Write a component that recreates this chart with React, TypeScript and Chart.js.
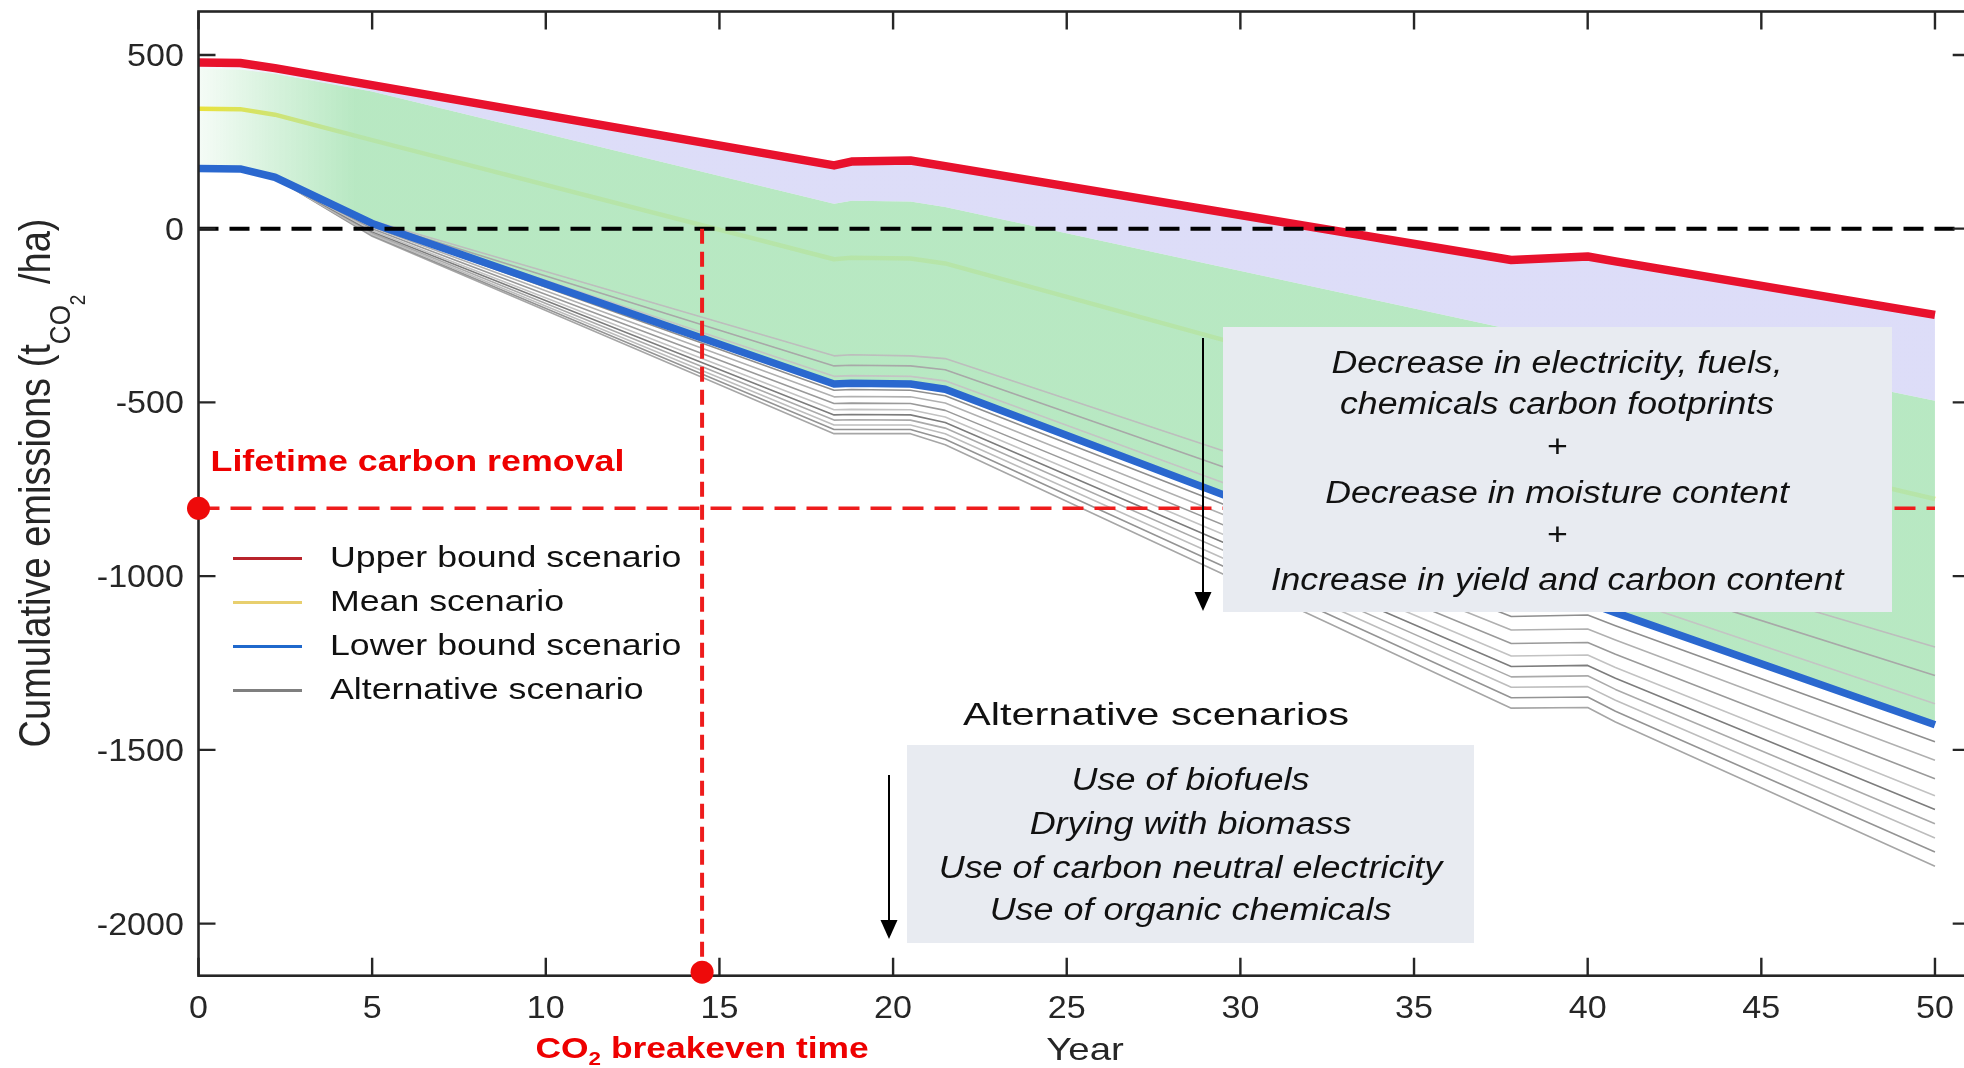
import React, { useEffect, useRef } from 'react';
import { Chart, registerables } from 'chart.js';

Chart.register(...registerables);

// ---------------- data ----------------
const YEARS = [0, 1.2, 2.2, 5, 18.3, 18.8, 20.5, 21.5, 37.8, 40, 40.8, 50];
const UPPER_BOUND = [478, 477, 462, 413, 182, 193, 196, 180, -90, -80, -94, -248];
const MEAN = [345, 344, 328, 255, -88, -84, -86, -100, -548, -543, -562, -778];
const LOWER_BOUND = [173, 172, 148, 15, -447, -445, -447, -462, -1080, -1076, -1105, -1428];
// boundary between the lavender band and the green band of scenarios
const GREEN_TOP = [460, 458, 446, 395, 72, 80, 78, 62, -290, -285, -305, -495];

const ALT_1 = [173, 172, 149, 23, -366, -363, -366, -374, -915, -910, -932, -1204];
const ALT_2 = [173, 172, 149, 20, -395, -393, -395, -406, -975, -970, -995, -1286];
const ALT_3 = [173, 172, 148, 17, -425, -423, -425, -438, -1035, -1031, -1058, -1367];
const ALT_4 = [173, 172, 148, 10, -465, -463, -465, -481, -1116, -1112, -1143, -1477];
const ALT_5 = [173, 172, 148, 5, -484, -483, -484, -502, -1155, -1152, -1184, -1530];
const ALT_6 = [173, 172, 147, 0, -503, -502, -503, -523, -1194, -1191, -1225, -1583];
const ALT_7 = [173, 172, 147, -5, -521, -520, -521, -542, -1230, -1227, -1263, -1632];
const ALT_8 = [173, 172, 147, -9, -536, -535, -536, -558, -1260, -1257, -1294, -1672];
const ALT_9 = [173, 172, 147, -13, -551, -550, -551, -574, -1290, -1287, -1326, -1713];
const ALT_10 = [174, 173, 146, -17, -565, -565, -565, -590, -1320, -1318, -1357, -1754];
const ALT_11 = [175, 174, 146, -20, -578, -578, -578, -606, -1350, -1348, -1389, -1794];
const ALT_12 = [176, 175, 146, -22, -590, -590, -590, -622, -1380, -1378, -1420, -1835];
const ALTERNATIVES = [ALT_1, ALT_2, ALT_3, ALT_4, ALT_5, ALT_6, ALT_7, ALT_8, ALT_9, ALT_10, ALT_11, ALT_12];
const ALT_COLORS = ['#bdbdbd', '#a8a8a8', '#c4c4c4', '#8f8f8f', '#b0b0b0', '#9a9a9a', '#c2c2c2', '#7d7d7d', '#aaaaaa', '#bdbdbd', '#949494', '#a6a6a6'];

const BREAKEVEN_YEAR = 14.5;
const LIFETIME_REMOVAL = -805;
const BREAKEVEN_MARK_Y = -2140;

const X_MIN = 0;
const X_MAX = 51;
const Y_MIN = -2150;
const Y_MAX = 625;
const X_TICKS = [0, 5, 10, 15, 20, 25, 30, 35, 40, 45, 50];
const Y_TICKS = [-2000, -1500, -1000, -500, 0, 500];

const LEGEND_LABELS = ['Upper bound scenario', 'Mean scenario', 'Lower bound scenario', 'Alternative scenario'];
const LEGEND_COLORS = ['#b8232b', '#e8cf6e', '#1f68cc', '#7f7f7f'];

const BOX1_LINES = [
  'Decrease in electricity, fuels,',
  'chemicals carbon footprints',
  '+',
  'Decrease in moisture content',
  '+',
  'Increase in yield and carbon content',
];
const BOX2_LINES = [
  'Use of biofuels',
  'Drying with biomass',
  'Use of carbon neutral electricity',
  'Use of organic chemicals',
];

// ---------------- helpers ----------------
const pts = (ys: number[]) => YEARS.map((x, i) => ({ x, y: ys[i] }));

type Piece = { text: string; size: number; dy: number };

function drawPieces(
  ctx: CanvasRenderingContext2D,
  pieces: Piece[],
  x: number,
  y: number,
  o: { weight?: string; style?: string; color?: string; sx?: number; align?: string; rotate?: boolean }
) {
  const weight = o.weight || 'normal';
  const style = o.style || 'normal';
  const fontFor = (s: number) => `${style} ${weight} ${s}px "Liberation Sans", Arial, sans-serif`;
  ctx.save();
  ctx.translate(x, y);
  ctx.scale(o.sx || 1, 1);
  if (o.rotate) ctx.rotate(-Math.PI / 2);
  let total = 0;
  for (const p of pieces) {
    ctx.font = fontFor(p.size);
    total += ctx.measureText(p.text).width;
  }
  let cx = o.align === 'center' ? -total / 2 : o.align === 'right' ? -total : 0;
  ctx.fillStyle = o.color || '#262626';
  ctx.textAlign = 'left';
  ctx.textBaseline = 'alphabetic';
  for (const p of pieces) {
    ctx.font = fontFor(p.size);
    ctx.fillText(p.text, cx, p.dy);
    cx += ctx.measureText(p.text).width;
  }
  ctx.restore();
}

function text(ctx: CanvasRenderingContext2D, t: string, x: number, y: number, size: number, o: any) {
  drawPieces(ctx, [{ text: t, size, dy: 0 }], x, y, o);
}

function arrowDown(ctx: CanvasRenderingContext2D, x: number, y0: number, y1: number) {
  ctx.save();
  ctx.strokeStyle = '#000';
  ctx.fillStyle = '#000';
  ctx.lineWidth = 2;
  ctx.beginPath();
  ctx.moveTo(x, y0);
  ctx.lineTo(x, y1 - 16);
  ctx.stroke();
  ctx.beginPath();
  ctx.moveTo(x - 8.5, y1 - 19);
  ctx.lineTo(x + 8.5, y1 - 19);
  ctx.lineTo(x, y1);
  ctx.closePath();
  ctx.fill();
  ctx.restore();
}

function drawFrame(chart: any) {
  const ctx: CanvasRenderingContext2D = chart.ctx;
  const { left, right, top, bottom } = chart.chartArea;
  const xs = chart.scales.x;
  const ys = chart.scales.y;
  ctx.save();
  ctx.strokeStyle = '#262626';
  ctx.lineWidth = 2.6;
  ctx.strokeRect(left, top, right - left, bottom - top);
  ctx.lineWidth = 2.4;
  ctx.beginPath();
  for (const v of X_TICKS) {
    const px = xs.getPixelForValue(v);
    ctx.moveTo(px, bottom);
    ctx.lineTo(px, bottom - 18);
    ctx.moveTo(px, top);
    ctx.lineTo(px, top + 18);
  }
  for (const v of Y_TICKS) {
    const py = ys.getPixelForValue(v);
    ctx.moveTo(left, py);
    ctx.lineTo(left + 17, py);
    ctx.moveTo(right, py);
    ctx.lineTo(right - 17, py);
  }
  ctx.stroke();
  ctx.restore();
}

function drawDecor(chart: any) {
  const ctx: CanvasRenderingContext2D = chart.ctx;
  const xs = chart.scales.x;
  const ys = chart.scales.y;

  // tick labels
  for (const v of X_TICKS) {
    text(ctx, String(v), xs.getPixelForValue(v), 1018, 31, { sx: 1.1, align: 'center' });
  }
  for (const v of Y_TICKS) {
    text(ctx, String(v), 184, ys.getPixelForValue(v) + 11, 31, { sx: 1.1, align: 'right' });
  }

  // axis titles
  text(ctx, 'Year', 1085, 1060, 32, { sx: 1.2, align: 'center' });
  drawPieces(
    ctx,
    [
      { text: 'Cumulative emissions (t', size: 38, dy: 0 },
      { text: 'CO', size: 26, dy: 17 },
      { text: '2', size: 19, dy: 30 },
      { text: ' /ha)', size: 38, dy: 0 },
    ],
    50,
    483,
    { sx: 1.15, rotate: true, align: 'center' }
  );

  // red annotations
  drawPieces(
    ctx,
    [
      { text: 'CO', size: 30, dy: 0 },
      { text: '2', size: 19, dy: 7 },
      { text: ' breakeven time', size: 30, dy: 0 },
    ],
    xs.getPixelForValue(BREAKEVEN_YEAR),
    1058,
    { weight: 'bold', color: '#ee0000', sx: 1.18, align: 'center' }
  );
  text(ctx, 'Lifetime carbon removal', 210.5, 470.5, 29, { weight: 'bold', color: '#ee0000', sx: 1.235 });

  // legend
  const baselines = [567, 611, 655, 699];
  LEGEND_LABELS.forEach((lab, i) => {
    const yb = baselines[i];
    ctx.save();
    ctx.strokeStyle = LEGEND_COLORS[i];
    ctx.lineWidth = 3;
    ctx.beginPath();
    ctx.moveTo(233, yb - 8.5);
    ctx.lineTo(302, yb - 8.5);
    ctx.stroke();
    ctx.restore();
    text(ctx, lab, 330, yb, 30, { sx: 1.19, color: '#111' });
  });

  // boxes
  ctx.save();
  ctx.fillStyle = '#e8ebf1';
  ctx.fillRect(1223, 327, 669, 285);
  ctx.fillRect(907, 745, 567, 198);
  ctx.restore();
  const b1 = [372.5, 414, 457, 502.5, 545, 589.5];
  BOX1_LINES.forEach((l, i) => text(ctx, l, 1557, b1[i], 31, { style: 'italic', sx: 1.15, align: 'center', color: '#111' }));
  arrowDown(ctx, 1203, 338, 611);

  text(ctx, 'Alternative scenarios', 1156, 725, 32, { sx: 1.3, align: 'center', color: '#111' });
  const b2 = [790, 834, 878, 920];
  BOX2_LINES.forEach((l, i) => text(ctx, l, 1190.5, b2[i], 31, { style: 'italic', sx: 1.16, align: 'center', color: '#111' }));
  arrowDown(ctx, 889, 775, 939);
}

const decorPlugin = {
  id: 'decor',
  afterDatasetDraw(chart: any, args: any) {
    if (args.index === 1) drawFrame(chart);
  },
  afterDatasetsDraw(chart: any) {
    drawDecor(chart);
  },
};

function gradientFill(rgb: string, fullAlpha: number, xEnd: number) {
  return (c: any) => {
    const chart = c.chart;
    if (!chart.chartArea || !chart.scales.x) return `rgba(${rgb},${fullAlpha})`;
    const xs = chart.scales.x;
    const g = chart.ctx.createLinearGradient(xs.getPixelForValue(0), 0, xs.getPixelForValue(xEnd), 0);
    g.addColorStop(0, `rgba(${rgb},0.12)`);
    g.addColorStop(0.45, `rgba(${rgb},${fullAlpha * 0.55})`);
    g.addColorStop(1, `rgba(${rgb},${fullAlpha})`);
    return g;
  };
}

export default function App() {
  const ref = useRef<HTMLCanvasElement>(null);

  useEffect(() => {
    if (!ref.current) return;
    const line = { pointRadius: 0, tension: 0, borderJoinStyle: 'round', borderCapStyle: 'butt' };
    const datasets: any[] = [
      // 0: markers
      {
        ...line,
        data: [
          { x: 0, y: LIFETIME_REMOVAL },
          { x: BREAKEVEN_YEAR, y: BREAKEVEN_MARK_Y },
        ],
        showLine: false,
        pointRadius: 11.5,
        pointBackgroundColor: '#ee0a0a',
        pointBorderColor: '#ee0a0a',
        pointBorderWidth: 0,
        clip: false,
        fill: false,
      },
      // 1: breakeven vertical
      {
        ...line,
        data: [
          { x: BREAKEVEN_YEAR, y: 0 },
          { x: BREAKEVEN_YEAR, y: Y_MIN },
        ],
        borderColor: '#ee1c1c',
        borderWidth: 4,
        borderDash: [15, 8],
        fill: false,
      },
      // 2: lifetime removal horizontal
      {
        ...line,
        data: [
          { x: 0, y: LIFETIME_REMOVAL },
          { x: 50, y: LIFETIME_REMOVAL },
        ],
        borderColor: '#ee1c1c',
        borderWidth: 3.5,
        borderDash: [21, 11],
        fill: false,
      },
      // 3: zero line
      {
        ...line,
        data: [
          { x: X_MIN, y: 0 },
          { x: X_MAX, y: 0 },
        ],
        borderColor: '#000',
        borderWidth: 4,
        borderDash: [20, 11],
        fill: false,
      },
      // 4: upper bound (fills lavender band down to GREEN_TOP)
      {
        ...line,
        data: pts(UPPER_BOUND),
        borderColor: '#e8112d',
        borderWidth: 8.5,
        fill: 18,
        backgroundColor: gradientFill('200,200,244', 0.62, 5),
      },
      // 5: lower bound
      {
        ...line,
        data: pts(LOWER_BOUND),
        borderColor: '#2a68cf',
        borderWidth: 7.5,
        fill: false,
      },
      // 6-17: alternative scenarios
      ...ALTERNATIVES.map((a, i) => ({
        ...line,
        data: pts(a),
        borderColor: ALT_COLORS[i],
        borderWidth: 1.6,
        fill: false,
      })),
      // 18: green band top (fills down to lower bound)
      {
        ...line,
        data: pts(GREEN_TOP),
        borderColor: 'rgba(0,0,0,0)',
        borderWidth: 1,
        fill: 5,
        backgroundColor: gradientFill('174,229,186', 0.88, 4.5),
      },
      // 19: mean
      {
        ...line,
        data: pts(MEAN),
        borderColor: '#f2e229',
        borderWidth: 4.5,
        fill: false,
      },
    ];

    const chart = new Chart(ref.current, {
      type: 'line',
      data: { datasets },
      plugins: [decorPlugin],
      options: {
        responsive: false,
        maintainAspectRatio: false,
        animation: false,
        devicePixelRatio: 1,
        events: [],
        layout: { padding: { left: 0, top: 7.5, right: 20.3, bottom: 0 } },
        plugins: {
          legend: { display: false },
          tooltip: { enabled: false },
          title: { display: false },
        },
        scales: {
          x: {
            type: 'linear',
            min: X_MIN,
            max: X_MAX,
            grid: { display: false },
            border: { display: false },
            ticks: { display: false, stepSize: 5 },
            afterFit: (s: any) => {
              s.height = 92.3;
            },
          },
          y: {
            type: 'linear',
            min: Y_MIN,
            max: Y_MAX,
            grid: { display: false },
            border: { display: false },
            ticks: { display: false, stepSize: 500 },
            afterFit: (s: any) => {
              s.width = 198.5;
            },
          },
        },
      } as any,
    });
    return () => chart.destroy();
  }, []);

  return (
    <div
      style={{
        position: 'absolute',
        left: 0,
        top: 0,
        width: 1964,
        height: 1068,
        overflow: 'hidden',
        background: '#ffffff',
      }}
    >
      <canvas ref={ref} width={1990} height={1068} style={{ display: 'block' }} />
    </div>
  );
}
